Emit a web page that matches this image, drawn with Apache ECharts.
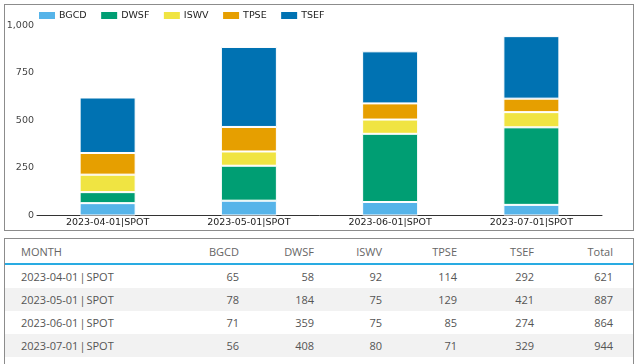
<!DOCTYPE html>
<html>
<head>
<meta charset="utf-8">
<script src="https://cdn.jsdelivr.net/npm/echarts@6/dist/echarts.min.js"></script>
<style>
  html, body { margin: 0; padding: 0; background: #fff; width: 637px; height: 364px; overflow: hidden; }
  #box1 { position: absolute; left: 4px; top: 4px; width: 628px; height: 225px; border: 1px solid #8c8c8c; }
  #chart { position: absolute; left: 0; top: 0; width: 637px; height: 234px; }
  #box2 { position: absolute; left: 4px; top: 238px; width: 628px; height: 140px; border: 1px solid #8c8c8c; font-family: "Open Sans", sans-serif; font-size: 11px; color: #555; }
  .row { position: absolute; left: 0; width: 628px; height: 23px; }
  .row.shade { background: #f2f2f2; }
  .cell { position: absolute; top: 0; line-height: 23px; white-space: nowrap; }
  .hdr { color: #666; }
  .bar { margin: 0 1px 0 1px; }
  #line { position: absolute; left: 0; top: 24px; width: 628px; height: 2px; background: #29abe2; }
</style>
</head>
<body>
<div id="box1"></div>
<div id="chart"></div>
<div id="box2"></div>
<script>
const categories = ["2023-04-01|SPOT", "2023-05-01|SPOT", "2023-06-01|SPOT", "2023-07-01|SPOT"];
const seriesNames = ["BGCD", "DWSF", "ISWV", "TPSE", "TSEF"];
const BGCD = [65, 78, 71, 56];
const DWSF = [58, 184, 359, 408];
const ISWV = [92, 75, 75, 80];
const TPSE = [114, 129, 85, 71];
const TSEF = [292, 421, 274, 329];
const totals = [621, 887, 864, 944];
const yTicks = [0, 250, 500, 750, 1000];
const colors = ["#56b4e9", "#009e73", "#f0e442", "#e69f00", "#0072b2"];

const values = [BGCD, DWSF, ISWV, TPSE, TSEF];

const chart = echarts.init(document.getElementById('chart'), null, { renderer: 'canvas' });
const font = "DejaVu Sans";
chart.setOption({
  animation: false,
  color: colors,
  legend: {
    left: 37, top: 10, padding: 0,
    itemWidth: 18, itemHeight: 9, itemGap: 12.5,
    icon: 'rect',
    textStyle: { fontFamily: font, fontSize: 9.5, color: '#222', padding: [0, 0, 0, -2] },
    data: seriesNames
  },
  grid: { left: 37, right: 35, top: 25.5, height: 190, containLabel: false },
  xAxis: {
    type: 'category', data: categories,
    axisLine: { lineStyle: { color: '#333', width: 1 } },
    axisTick: { show: false },
    axisLabel: { fontFamily: font, fontSize: 9.5, color: '#222', margin: 2 }
  },
  yAxis: {
    type: 'value', min: yTicks[0], max: yTicks[yTicks.length - 1], interval: 250,
    axisLine: { show: false }, axisTick: { show: false }, splitLine: { show: false },
    axisLabel: { fontFamily: font, fontSize: 9.5, color: '#444', margin: 3,
      formatter: v => v.toLocaleString('en-US') }
  },
  series: seriesNames.map((n, i) => ({
    name: n, type: 'bar', stack: 'total', barWidth: 56,
    itemStyle: { borderColor: '#fff', borderWidth: 1 },
    data: values[i]
  }))
});

// table
const box = document.getElementById('box2');
const rightEdges = [234, 309, 377, 452, 529, 608]; // relative to box inner left
function addCell(row, content, right, cls) {
  const c = document.createElement('div');
  c.className = 'cell' + (cls ? ' ' + cls : '');
  if (typeof content === 'string') c.textContent = content; else c.appendChild(content);
  if (right === null) { c.style.left = '16px'; }
  else { c.style.right = (628 - right) + 'px'; }
  row.appendChild(c);
}
function monthNode(cat) {
  const parts = cat.split('|');
  const f = document.createDocumentFragment();
  f.appendChild(document.createTextNode(parts[0]));
  const s = document.createElement('span'); s.className = 'bar'; s.textContent = '|';
  f.appendChild(s);
  f.appendChild(document.createTextNode(parts[1]));
  return f;
}
const hdr = document.createElement('div');
hdr.className = 'row'; hdr.style.top = '1px';
addCell(hdr, 'MONTH', null, 'hdr');
seriesNames.concat(['Total']).forEach((h, i) => addCell(hdr, h, rightEdges[i], 'hdr'));
box.appendChild(hdr);
const ln = document.createElement('div'); ln.id = 'line'; box.appendChild(ln);
categories.forEach((m, r) => {
  const row = document.createElement('div');
  row.className = 'row' + (r % 2 === 1 ? ' shade' : '');
  row.style.top = (26 + r * 23) + 'px';
  addCell(row, monthNode(m), null);
  values.forEach((arr, i) => addCell(row, String(arr[r]), rightEdges[i]));
  addCell(row, String(totals[r]), rightEdges[5]);
  box.appendChild(row);
});
</script>
</body>
</html>
